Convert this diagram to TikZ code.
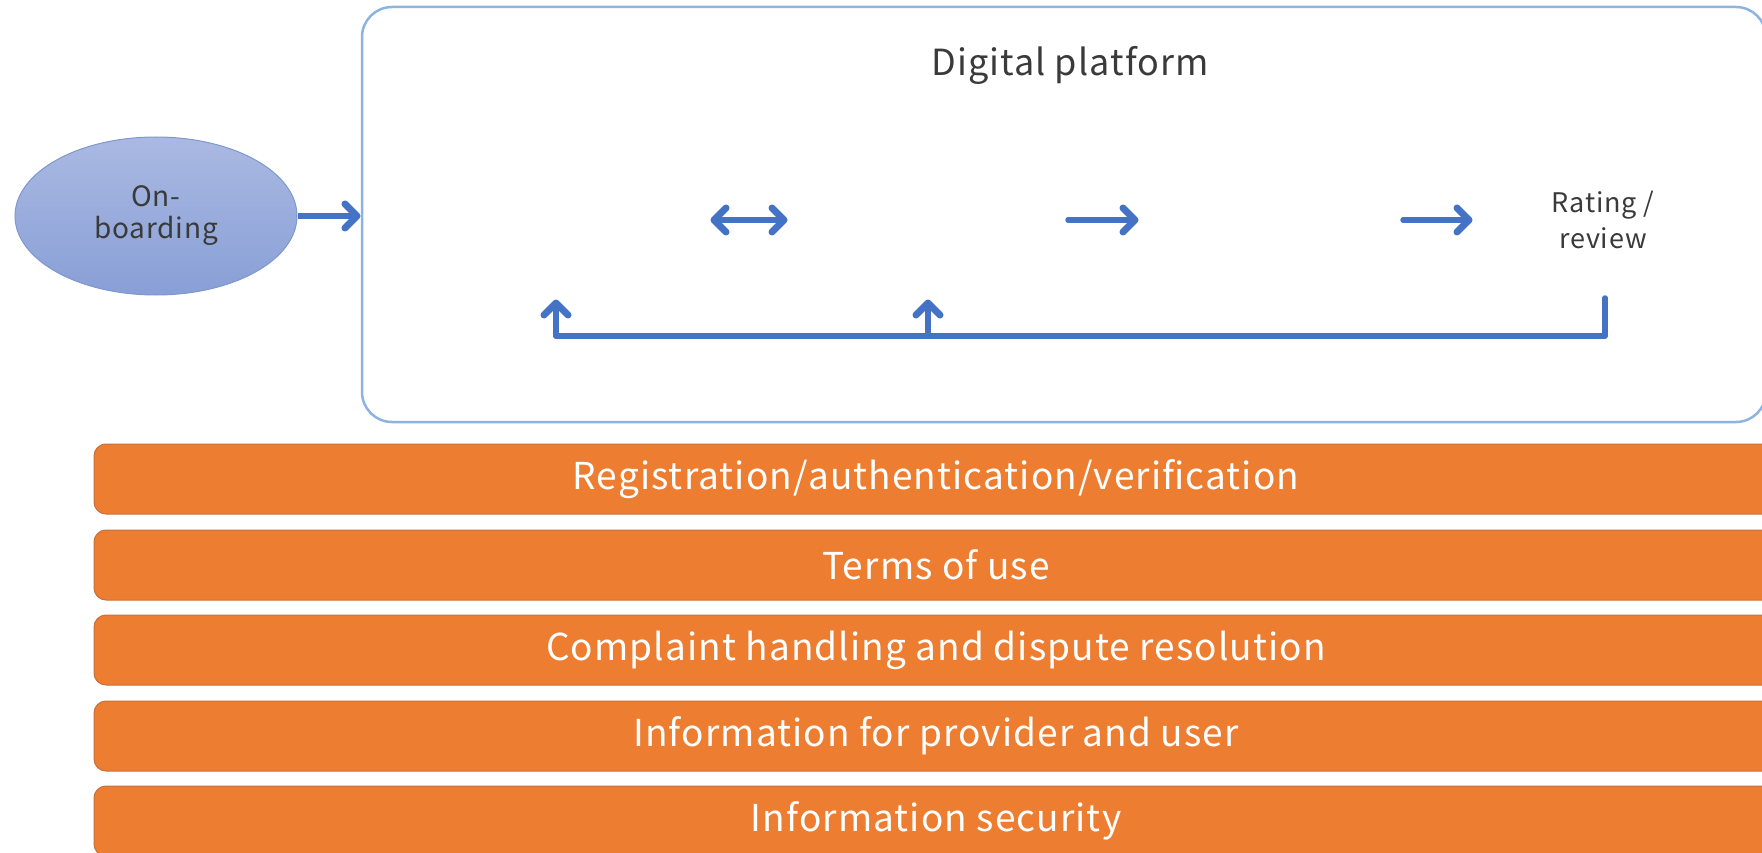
\documentclass[tikz,border=0pt]{standalone}
\usepackage{fontspec}
\setmainfont{Noto Sans CJK JP}[LetterSpace=3]
\usetikzlibrary{shapes.geometric}
\definecolor{arrowblue}{HTML}{4472C4}
\definecolor{platline}{HTML}{8DB3E2}
\definecolor{barorange}{HTML}{ED7D31}
\definecolor{barline}{HTML}{C9703A}
\definecolor{elltop}{HTML}{AAB9E2}
\definecolor{ellbot}{HTML}{889FD6}
\definecolor{ellline}{HTML}{7F97CF}
\definecolor{txt}{HTML}{3A3A3A}
\tikzset{
  bar/.style={draw=barline, line width=1pt, fill=barorange, rounded corners=12pt,
    minimum width=1684pt, minimum height=70pt, inner sep=0pt, text=white,
    font=\fontsize{37}{40}\selectfont},
  platform/.style={draw=platline, line width=2.5pt, rounded corners=30pt,
    minimum width=1404pt, minimum height=415pt, inner sep=0pt},
  onboard/.style={ellipse, draw=ellline, line width=1pt, top color=elltop, bottom color=ellbot,
    minimum width=282pt, minimum height=158pt, inner sep=0pt, align=center, text=txt,
    font=\fontsize{28}{32}\selectfont},
  label/.style={align=center, text=txt, inner sep=0pt},
  fbline/.style={draw=arrowblue, line width=5.5pt, line cap=round, line join=round},
  headline/.style={draw=arrowblue, line width=7pt, line cap=round, line join=round}
}
% chevron arrow heads at a named apex: right, left, up
\newcommand{\headR}[1]{\draw[headline] ([shift={(-12,-12)}]#1) -- (#1) -- ([shift={(-12,12)}]#1);}
\newcommand{\headL}[1]{\draw[headline] ([shift={(12,-12)}]#1) -- (#1) -- ([shift={(12,12)}]#1);}
\newcommand{\headU}[1]{\draw[headline] ([shift={(-12,12)}]#1) -- (#1) -- ([shift={(12,12)}]#1);}
\begin{document}
\begin{tikzpicture}[x=1pt,y=-1pt]
\useasboundingbox (0,0) rectangle (1762,853);
\clip (0,0) rectangle (1762,853);
% platform
\node[platform] (plat) at (1064,214.5) {};
\node[label, font=\fontsize{36}{40}\selectfont] (title) at (1070,65) {Digital platform};
% onboarding
\node[onboard] (onb) at (156,216) {On-\\boarding};
\coordinate (oe) at (357,216);
\draw[fbline, line cap=butt] (onb.east) -- (oe);
\headR{oe}
% inner flow
\coordinate (a1) at (714,220);
\coordinate (a2) at (784,220);
\coordinate (b1) at (1068,220);
\coordinate (b2) at (1135,220);
\coordinate (c1) at (1403,220);
\coordinate (c2) at (1469,220);
\draw[fbline] (a1) -- (a2);
\headL{a1}
\headR{a2}
\draw[fbline] (b1) -- (b2);
\headR{b2}
\draw[fbline] (c1) -- (c2);
\headR{c2}
\node[label, font=\fontsize{27}{36}\selectfont] (rr) at (1603,220) {Rating /\\review};
% feedback
\coordinate (fs) at (1605,298);
\coordinate (fl) at (556,336);
\coordinate (fm) at (928,336);
\coordinate (tl) at (556,303);
\coordinate (tm) at (928,303);
\draw[fbline] (fs) |- (fl);
\draw[fbline] (fl) -- (tl);
\headU{tl}
\draw[fbline] (fm) -- (tm);
\headU{tm}
% bars
\node[bar] (r1) at (936,479) {Registration/authentication/verification};
\node[bar] (r2) at (936,565) {Terms of use};
\node[bar] (r3) at (936,650) {Complaint handling and dispute resolution};
\node[bar] (r4) at (936,736) {Information for provider and user};
\node[bar] (r5) at (936,821) {Information security};
\end{tikzpicture}
\end{document}
